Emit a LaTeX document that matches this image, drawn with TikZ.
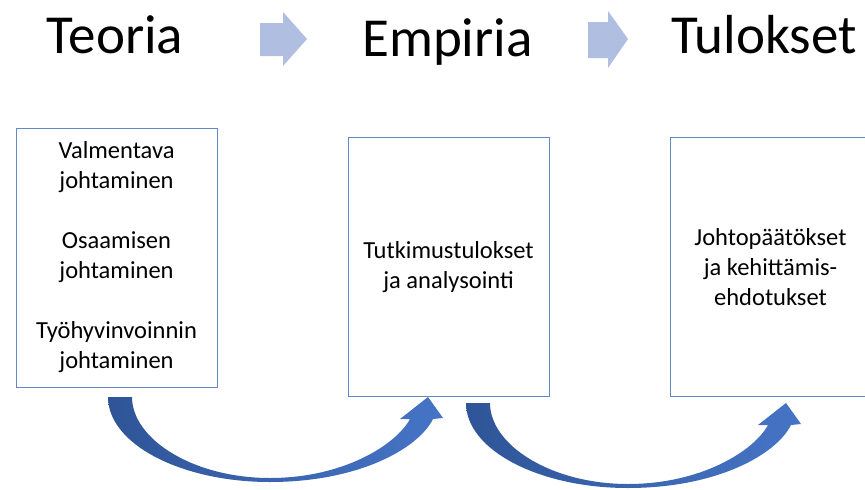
\documentclass[tikz,border=0pt]{standalone}
\usepackage{fontspec}
\setmainfont{Carlito}
\definecolor{boxline}{RGB}{100,135,200}
\definecolor{steplight}{RGB}{176,190,226}
\definecolor{arrowdark}{RGB}{47,85,151}
\definecolor{arrowlight}{RGB}{70,116,198}
\tikzset{
  title/.style = {anchor=base, font=\fontsize{55}{60}\selectfont},
  textbox/.style = {draw=boxline, line width=0.9pt, minimum width=201, minimum height=259, align=center, inner sep=0, font=\fontsize{24.5}{30}\selectfont},
  steparrow/.style = {fill=steplight},
  bigarrow/.pic = {
    \shade[left color=arrowdark, right color=arrowlight]
    (0,0) .. controls (0,47) and (73,85) .. (162,85)
    .. controls (250,85) and (310,52) .. (325,22)
    -- (335,21) -- (320,0) -- (292,22) -- (302,22)
    .. controls (288,48) and (235,81) .. (162,81)
    .. controls (85,81) and (24,42) .. (24,0) -- cycle;
  }
}

\begin{document}
\begin{tikzpicture}[x=1pt, y=-1pt]
\useasboundingbox (0,0) rectangle (865,490);
\clip (0,0) rectangle (865,490);
% titles
\node[title] (teoria) at (115,53) {Teoria};
\node[title] (empiria) at (447.5,56) {Empiria};
\node[title] (tulokset) at (764,53) {Tulokset};
% step arrows between titles
\fill[steparrow] (260,23) -- (283,23) -- (283,12) -- (307,39) -- (283,66) -- (283,56) -- (260,56) -- cycle;
\fill[steparrow] (588,22) -- (608,22) -- (608,11) -- (628,39) -- (608,68) -- (608,58) -- (588,58) -- cycle;
% boxes
\node[textbox] (theory) at (116.5,257.5) {Valmentava\\johtaminen\\[30pt]Osaamisen\\johtaminen\\[30pt]Työhyvinvoinnin\\johtaminen};
\node[textbox] (results) at (448.5,267) {Tutkimustulokset\\ja analysointi};
\node[textbox] (conclusions) at (770.5,267) {Johtopäätökset\\ja kehittämis-\\ehdotukset};
% curved arrows under the boxes
\path (108,397) pic {bigarrow}; % theory -> results
\path (466,403) pic {bigarrow}; % results -> conclusions
\end{tikzpicture}
\end{document}
